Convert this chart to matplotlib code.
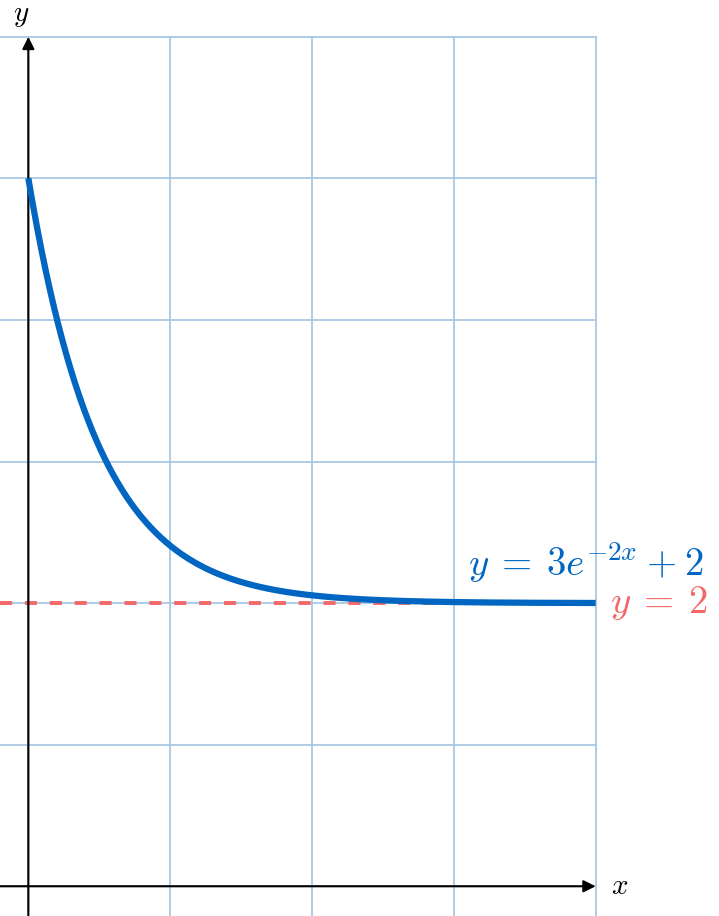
import numpy as np
import matplotlib.pyplot as plt

plt.rcParams['mathtext.fontset'] = 'cm'

# Data
x_ticks = [0, 1, 2, 3, 4]
y_ticks = [0, 1, 2, 3, 4, 5, 6]
asymptote = 2
curve_label = r'$y\:=\:3e^{-2x}\:+\:2$'
asym_label = r'$y\:=\:2$'

BLUE = '#0066c2'
RED = '#f26868'
GRID = '#a8c8e6'

fig = plt.figure(figsize=(7.19, 9.16), dpi=100)
ax = fig.add_axes([0, 0, 1, 1])
x_lo, x_hi = -0.2, 4.87
y_lo, y_hi = -0.21, 6.26
ax.set_xlim(x_lo, x_hi)
ax.set_ylim(y_lo, y_hi)
ax.axis('off')

# grid
for gx in x_ticks:
    ax.plot([gx, gx], [y_lo, y_ticks[-1]], color=GRID, lw=1.3, zorder=1)
for gy in y_ticks:
    ax.plot([x_lo, x_ticks[-1]], [gy, gy], color=GRID, lw=1.3, zorder=1)

# axes with arrows
ax.annotate('', xy=(x_ticks[-1], 0), xytext=(x_lo, 0),
            arrowprops=dict(arrowstyle='-|>', color='black', lw=1.5,
                            mutation_scale=18, shrinkA=0, shrinkB=0), zorder=3)
ax.annotate('', xy=(0, y_ticks[-1]), xytext=(0, y_lo),
            arrowprops=dict(arrowstyle='-|>', color='black', lw=1.5,
                            mutation_scale=18, shrinkA=0, shrinkB=0), zorder=3)
ax.text(x_ticks[-1] + 0.11, 0, r'$x$', fontsize=21, va='center', ha='left')
ax.text(-0.05, y_hi - 0.01, r'$y$', fontsize=21, va='top', ha='center')

# asymptote
ax.plot([x_lo, x_ticks[-1]], [asymptote, asymptote], color=RED, lw=2.8,
        dashes=(3.1, 3.3), zorder=2)

# curve
xs = np.linspace(0, 4, 400)
ax.plot(xs, 3 * np.exp(-2 * xs) + 2, color=BLUE, lw=4.5, zorder=4,
        solid_capstyle='butt')

ax.text(3.1, 2.13, curve_label, color=BLUE, fontsize=28, va='bottom', ha='left')
ax.text(4.1, 2.0, asym_label, color=RED, fontsize=28, va='center', ha='left')

fig.savefig('out.png', dpi=100)
